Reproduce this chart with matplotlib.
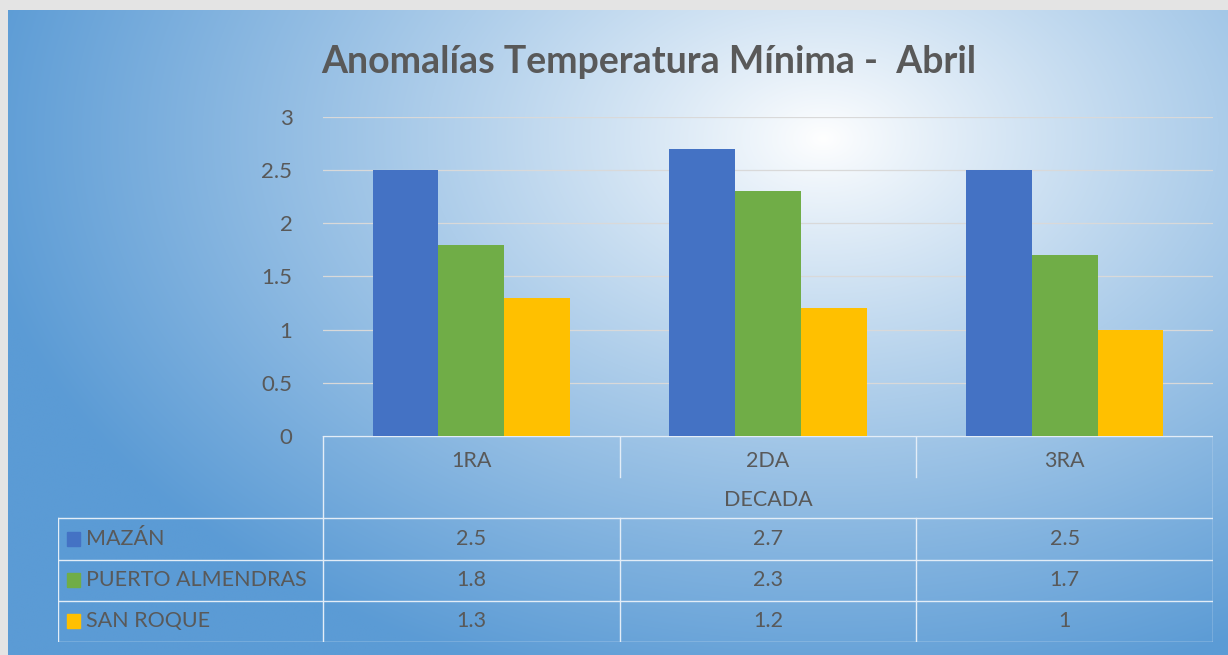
import numpy as np
import matplotlib.pyplot as plt
from matplotlib.patches import Rectangle

# Datos
decadas = ['1RA', '2DA', '3RA']
estaciones = ['MAZÁN', 'PUERTO ALMENDRAS', 'SAN ROQUE']
mazan = [2.5, 2.7, 2.5]
puerto_almendras = [1.8, 2.3, 1.7]
san_roque = [1.3, 1.2, 1.0]
valores = [mazan, puerto_almendras, san_roque]
colores = ['#4472C4', '#70AD47', '#FFC000']
etiquetas_tabla = [['2.5', '2.7', '2.5'], ['1.8', '2.3', '1.7'], ['1.3', '1.2', '1']]
yticks = [0, 0.5, 1, 1.5, 2, 2.5, 3]

W, H = 1228, 655
txt = '#595959'
plt.rcParams['font.family'] = ['Lato', 'DejaVu Sans']

fig = plt.figure(figsize=(W / 100, H / 100), dpi=100)
fig.patch.set_facecolor('#e4e4e4')

# Fondo con degradado radial
bg = fig.add_axes([8 / W, 0, 1 - 8 / W, 1 - 10 / H])
yy, xx = np.mgrid[0:H, 0:W]
d = np.sqrt(((xx - 820) / 860.0) ** 2 + ((yy - 130) / 580.0) ** 2)
d = np.clip(d, 0, 1) ** 0.9
c0 = np.array([1.0, 1.0, 1.0])
c1 = np.array([0x5B, 0x9B, 0xD5]) / 255
img = c0[None, None, :] * (1 - d[..., None]) + c1[None, None, :] * d[..., None]
bg.imshow(img, aspect='auto', extent=[0, 1, 0, 1], origin='upper')
bg.axis('off')

# Grafico de barras
x0, x1, ytop, ybot = 323, 1213, 117, 436
ax = fig.add_axes([x0 / W, 1 - ybot / H, (x1 - x0) / W, (ybot - ytop) / H])
ax.patch.set_alpha(0)
x = np.arange(len(decadas))
ancho = 0.222
for i, (serie, col) in enumerate(zip(valores, colores)):
    ax.bar(x + (i - 1) * ancho, serie, ancho, color=col, zorder=3)
ax.set_xlim(-0.5, 2.5)
ax.set_ylim(0, 3)
ax.set_yticks(yticks)
ax.set_yticklabels([f'{t:g}' for t in yticks])
ax.yaxis.grid(True, color='#d9d9d9', linewidth=0.9, zorder=0)
ax.tick_params(axis='y', length=0, pad=22, labelsize=16, labelcolor=txt)
ax.set_xticks([])
for s in ax.spines.values():
    s.set_visible(False)

fig.text(649 / W, 1 - 62 / H, 'Anomalías Temperatura Mínima -  Abril', ha='center', va='center',
         fontsize=27, fontweight='bold', color=txt)

# Tabla de datos
lab_w = (x0 - 58) / ((x1 - x0) / 3)
tab_top, tab_bot = 436, 642
tax = fig.add_axes([58 / W, 1 - tab_bot / H, (x1 - 58) / W, (tab_bot - tab_top) / H])
tax.set_xlim(-0.5 - lab_w, 2.5)
tax.set_ylim(0, 5)
tax.axis('off')
lc = '#e3edf7'
lw = 1.0
for yv in [0, 1, 2, 3]:
    tax.plot([-0.5 - lab_w, 2.5], [yv, yv], color=lc, lw=lw)
tax.plot([-0.5, 2.5], [5, 5], color=lc, lw=lw)
tax.plot([-0.5 - lab_w, -0.5 - lab_w], [0, 3], color=lc, lw=lw)
tax.plot([-0.5, -0.5], [0, 5], color=lc, lw=lw)
tax.plot([2.5, 2.5], [0, 5], color=lc, lw=lw)
for xv in [0.5, 1.5]:
    tax.plot([xv, xv], [0, 3], color=lc, lw=lw)
    tax.plot([xv, xv], [4, 5], color=lc, lw=lw)

for j, dec in enumerate(decadas):
    tax.text(j, 4.4, dec, ha='center', va='center', fontsize=15.5, color=txt)
tax.text(1, 3.45, 'DECADA', ha='center', va='center', fontsize=15.5, color=txt)

sq = 0.045
for i, (est, col) in enumerate(zip(estaciones, colores)):
    yc = 2.5 - i
    xs = -0.5 - lab_w + 0.03
    tax.add_patch(Rectangle((xs, yc - 0.17), sq, 0.34, color=col))
    tax.text(xs + sq + 0.02, yc, est, ha='left', va='center', fontsize=15.5, color=txt)
    for j in range(len(decadas)):
        tax.text(j, yc, etiquetas_tabla[i][j], ha='center', va='center', fontsize=15.5, color=txt)

fig.savefig('out.png', dpi=100, facecolor=fig.get_facecolor())
